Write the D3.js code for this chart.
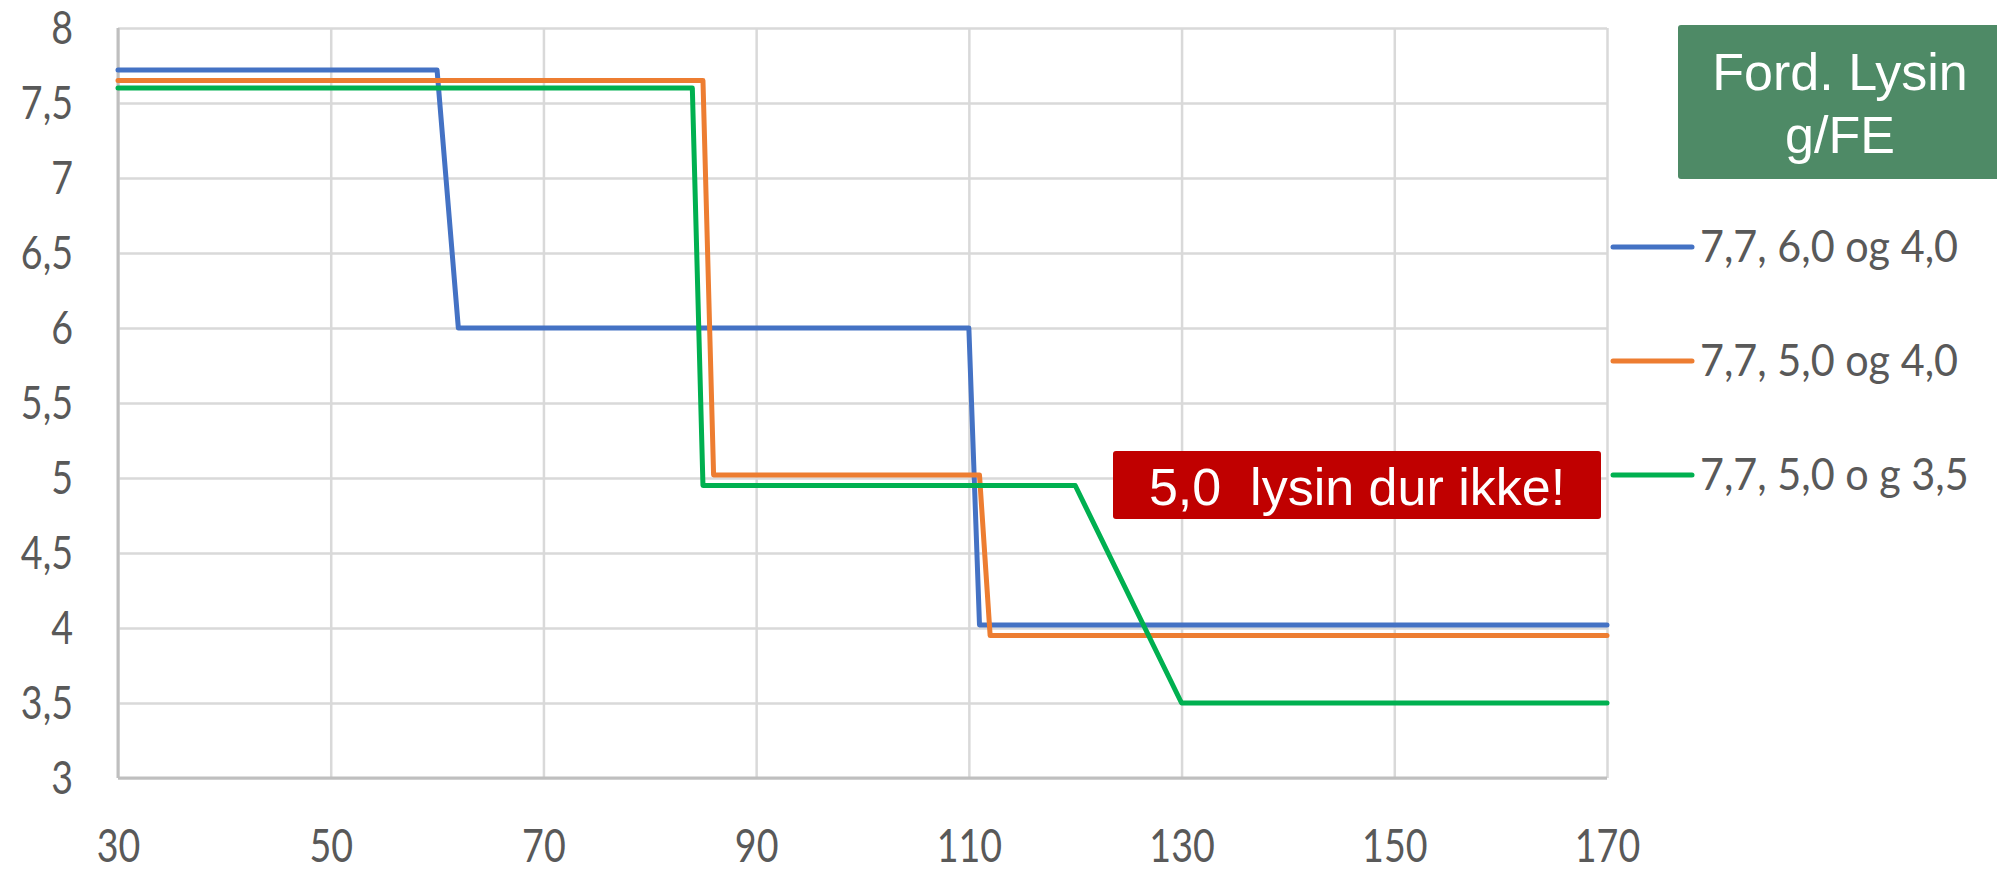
<!DOCTYPE html>
<html>
<head>
<meta charset="utf-8">
<script src="https://cdn.jsdelivr.net/npm/d3@7"></script>
<style>
  body { margin: 0; background: #fff; }
  .grid line { stroke: #d9d9d9; stroke-width: 2.5; }
  .grid path { display: none; }
  .axis path, .axis line { display: none; }
  .axis text { fill: #595959; font-family: Lato, Carlito, sans-serif; font-size: 47px; }
  .line { fill: none; stroke-width: 5; stroke-linejoin: round; stroke-linecap: round; }
</style>
</head>
<body>
<div id="chart"></div>
<script>

// data
var xTicks = [30, 50, 70, 90, 110, 130, 150, 170];
var yTicks = [3, 3.5, 4, 4.5, 5, 5.5, 6, 6.5, 7, 7.5, 8];

var seriesNames = ["7,7, 6,0 og 4,0", "7,7, 5,0 og 4,0", "7,7, 5,0 o g 3,5"];
var seriesColors = ["#4472c4", "#ed7d31", "#00b050"];

var blueX = [30, 60, 62, 110, 111, 170];
var blueY = [7.72, 7.72, 6.0, 6.0, 4.02, 4.02];
var orangeX = [30, 85, 86, 111, 112, 170];
var orangeY = [7.65, 7.65, 5.02, 5.02, 3.95, 3.95];
var greenX = [30, 84, 85, 120, 130, 170];
var greenY = [7.6, 7.6, 4.95, 4.95, 3.5, 3.5];

var legendTitle = ["Ford. Lysin", "g/FE"];
var noteText = "5,0  lysin dur ikke!";

// set the dimensions and margins of the graph
var margin = {top: 28, right: 390, bottom: 101, left: 118},
    width = 1997 - margin.left - margin.right,
    height = 879 - margin.top - margin.bottom;

var x = d3.scaleLinear().domain([30, 170]).range([0, width]);
var y = d3.scaleLinear().domain([3, 8]).range([height, 0]);

var fmt = function(d) { return String(d).replace(".", ","); };

var svg = d3.select("#chart").append("svg")
    .attr("width", 1997)
    .attr("height", 879);

var g = svg.append("g")
    .attr("transform", "translate(" + margin.left + "," + margin.top + ")");

// the excel labels are narrow, squeeze the glyphs a little
function squeeze(sel, k) {
  sel.each(function() {
    var len = this.getComputedTextLength();
    d3.select(this)
        .attr("textLength", len * k)
        .attr("lengthAdjust", "spacingAndGlyphs");
  });
}

// gridlines
g.append("g")
    .attr("class", "grid")
    .call(d3.axisLeft(y).tickValues(yTicks).tickSize(-width).tickFormat(""));

g.append("g")
    .attr("class", "grid")
    .attr("transform", "translate(0," + height + ")")
    .call(d3.axisBottom(x).tickValues(xTicks).tickSize(-height).tickFormat(""));

// axis lines (a bit darker than the grid)
g.append("line")
    .attr("x1", 0).attr("x2", 0)
    .attr("y1", 0).attr("y2", height)
    .style("stroke", "#bfbfbf").style("stroke-width", 3);
g.append("line")
    .attr("x1", 0).attr("x2", width)
    .attr("y1", height).attr("y2", height)
    .style("stroke", "#bfbfbf").style("stroke-width", 3);

// tick labels
var yAxis = g.append("g")
    .attr("class", "axis")
    .call(d3.axisLeft(y).tickValues(yTicks).tickSize(0).tickPadding(45).tickFormat(fmt));

var xAxis = g.append("g")
    .attr("class", "axis")
    .attr("transform", "translate(0," + height + ")")
    .call(d3.axisBottom(x).tickValues(xTicks).tickSize(0).tickPadding(51).tickFormat(fmt));

squeeze(yAxis.selectAll("text"), 0.8);
squeeze(xAxis.selectAll("text"), 0.8);

// the three series
var series = [
  d3.zip(blueX, blueY),
  d3.zip(orangeX, orangeY),
  d3.zip(greenX, greenY)
];

var valueline = d3.line()
    .x(function(d) { return x(d[0]); })
    .y(function(d) { return y(d[1]); });

series.forEach(function(s, i) {
  g.append("path")
      .datum(s)
      .attr("class", "line")
      .style("stroke", seriesColors[i])
      .attr("d", valueline);
});

// legend title box
svg.append("rect")
    .attr("x", 1678).attr("y", 25)
    .attr("width", 340).attr("height", 154)
    .attr("rx", 3)
    .style("fill", "#4e8a66");

svg.selectAll(".legtitle")
    .data(legendTitle)
  .enter().append("text")
    .attr("class", "legtitle")
    .attr("x", 1840)
    .attr("y", function(d, i) { return 90 + i * 63; })
    .attr("text-anchor", "middle")
    .style("font-family", "Liberation Sans, Arial, sans-serif")
    .style("font-size", "52px")
    .style("fill", "#fff")
    .text(function(d) { return d; });

// legend entries
var legend = svg.selectAll(".legend")
    .data(seriesNames)
  .enter().append("g")
    .attr("class", "legend")
    .attr("transform", function(d, i) { return "translate(0," + (247 + i * 114) + ")"; });

legend.append("line")
    .attr("x1", 1613).attr("x2", 1692)
    .style("stroke", function(d, i) { return seriesColors[i]; })
    .style("stroke-width", 5)
    .style("stroke-linecap", "round");

var legText = legend.append("text")
    .attr("x", 1700)
    .attr("y", 15)
    .style("font-family", "Lato, Carlito, sans-serif")
    .style("font-size", "45px")
    .style("fill", "#595959")
    .text(function(d) { return d; });

// first entry should end near x=1958
var legK = 258 / legText.node().getComputedTextLength();
squeeze(legText, legK);

// red note
svg.append("rect")
    .attr("x", 1113).attr("y", 451)
    .attr("width", 488).attr("height", 68)
    .attr("rx", 3)
    .style("fill", "#c00000");

svg.append("text")
    .attr("x", 1357)
    .attr("y", 505)
    .attr("text-anchor", "middle")
    .style("font-family", "Liberation Sans, Arial, sans-serif")
    .style("font-size", "52px")
    .style("fill", "#fff")
    .attr("xml:space", "preserve")
    .text(noteText);

</script>
</body>
</html>
